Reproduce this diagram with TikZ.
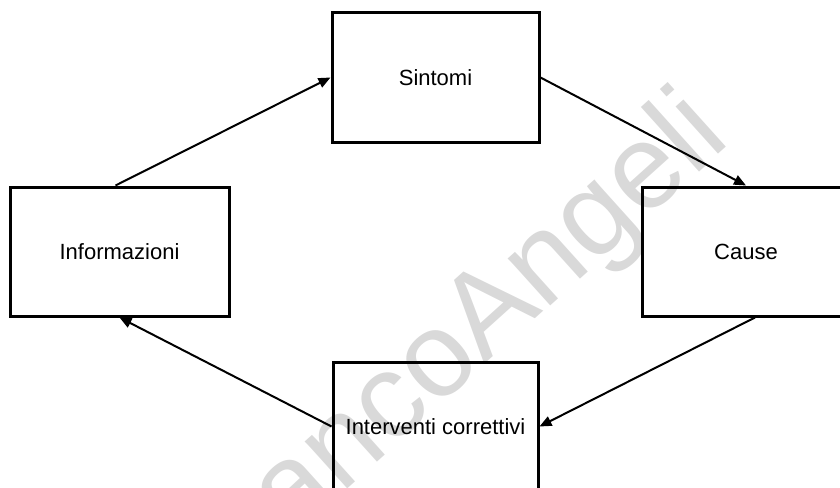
\documentclass[tikz,border=0pt]{standalone}
\usepackage{fontspec}
\setmainfont{Liberation Sans}
\usetikzlibrary{arrows.meta}
\definecolor{wmgray}{RGB}{217,217,217}
\begin{document}
\begin{tikzpicture}[x=1pt,y=-1pt,
  box/.style={draw=black,line width=3pt,rectangle,minimum height=129pt,
    inner sep=0pt,font=\fontsize{22}{26}\selectfont},
  link/.style={line width=2pt,-{Triangle[length=12pt,width=10pt]}}]
\useasboundingbox (0,0) rectangle (840,487);
\clip (0,0) rectangle (840,487);

% background stamp
\node[text=wmgray,font=\fontsize{120}{120}\selectfont,rotate=42,anchor=base]
  (stamp) at (470,378) {FrancoAngeli};

% the four stages of the cycle
\node[box,minimum width=207pt] (sint) at (435.5,77.5) {Sintomi};
\node[box,minimum width=219pt] (info) at (119.5,251.5) {Informazioni};
\node[box,minimum width=208pt] (cause) at (746,251.5) {Cause};
\node[box,minimum width=205pt] (interv) at (435.5,426.5) {Interventi correttivi};

% cycle arrows
\draw[link] ([xshift=-4pt]info.north) -- (sint.west);
\draw[link] (sint.east) -- (cause.north);
\draw[link] ([xshift=9pt]cause.south) -- (interv.east);
\draw[link] (interv.west) -- (info.south);
\end{tikzpicture}
\end{document}
